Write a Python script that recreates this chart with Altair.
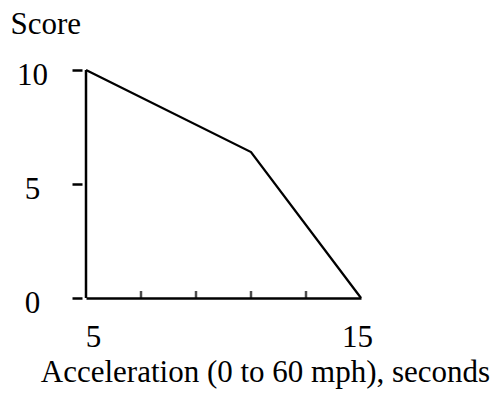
import altair as alt
import pandas as pd

# Score as a function of 0-60 mph acceleration time
accel = [5, 11, 15]
score = [10, 6.4, 0]

# Axis layout values
x_domain = [5, 15]
y_domain = [0, 10]
x_label_values = [5, 15]
x_minor_ticks = [7, 9, 11, 13]
y_tick_values = [0, 5, 10]

FONT = "Liberation Serif"
FS = 31
W, H = 275, 228

line_df = pd.DataFrame({"accel": accel, "score": score})
minor_df = pd.DataFrame({"accel": x_minor_ticks, "score": [y_domain[0]] * len(x_minor_ticks)})
frame_df = pd.DataFrame({"accel": [x_domain[0]], "lo": [y_domain[0]], "hi": [y_domain[1]]})

x_scale = alt.Scale(domain=x_domain, nice=False, zero=False)
y_scale = alt.Scale(domain=y_domain, nice=False, zero=False)

x_axis = alt.Axis(
    values=x_label_values, ticks=False, grid=False,
    domain=True, domainColor="black", domainWidth=2.5,
    labelFont=FONT, labelFontSize=FS, labelColor="black",
    labelPadding=48, labelBaseline="alphabetic", labelAngle=0,
    labelFlush=False, labelAlign="center",
    labelOffset={"condition": {"test": "datum.value == 5", "value": 7}, "value": -4},
    title="Acceleration (0 to 60 mph), seconds",
    titleFont=FONT, titleFontSize=FS, titleFontWeight="normal", titleColor="black",
    titleX=179, titleY=83, titleAlign="center", titleBaseline="alphabetic",
)

y_axis = alt.Axis(
    values=y_tick_values, grid=False, domain=False, offset=4,
    ticks=True, tickSize=10, tickWidth=2.5, tickColor="black",
    labelFont=FONT, labelFontSize=FS, labelColor="black",
    labelAlign="center", labelPadding=40, labelBaseline="middle", labelOffset=5,
    title="Score", titleAngle=0, titleFont=FONT, titleFontSize=FS,
    titleFontWeight="normal", titleColor="black",
    titleX=-72, titleY=-37, titleAlign="left", titleBaseline="alphabetic",
)

curve = alt.Chart(line_df).mark_line(color="black", strokeWidth=2.3).encode(
    x=alt.X("accel:Q", scale=x_scale, axis=x_axis),
    y=alt.Y("score:Q", scale=y_scale, axis=y_axis),
)

# vertical axis line at the left edge
vline = alt.Chart(frame_df).mark_rule(color="black", strokeWidth=2.5).encode(
    x=alt.X("accel:Q", scale=x_scale),
    y=alt.Y("lo:Q", scale=y_scale),
    y2="hi:Q",
)

# inward minor ticks on the horizontal axis
minor = alt.Chart(minor_df).mark_tick(
    orient="vertical", size=7, thickness=2.5, color="black", yOffset=-3.5
).encode(
    x=alt.X("accel:Q", scale=x_scale),
    y=alt.Y("score:Q", scale=y_scale),
)

chart = alt.layer(vline, minor, curve).properties(
    width=W, height=H,
    autosize=alt.AutoSizeParams(type="none"),
    padding={"left": 86, "top": 70, "right": 131, "bottom": 98},
).configure(background="white").configure_view(stroke=None)

chart.save("out.html", embed_options={"renderer": "svg", "actions": False})
